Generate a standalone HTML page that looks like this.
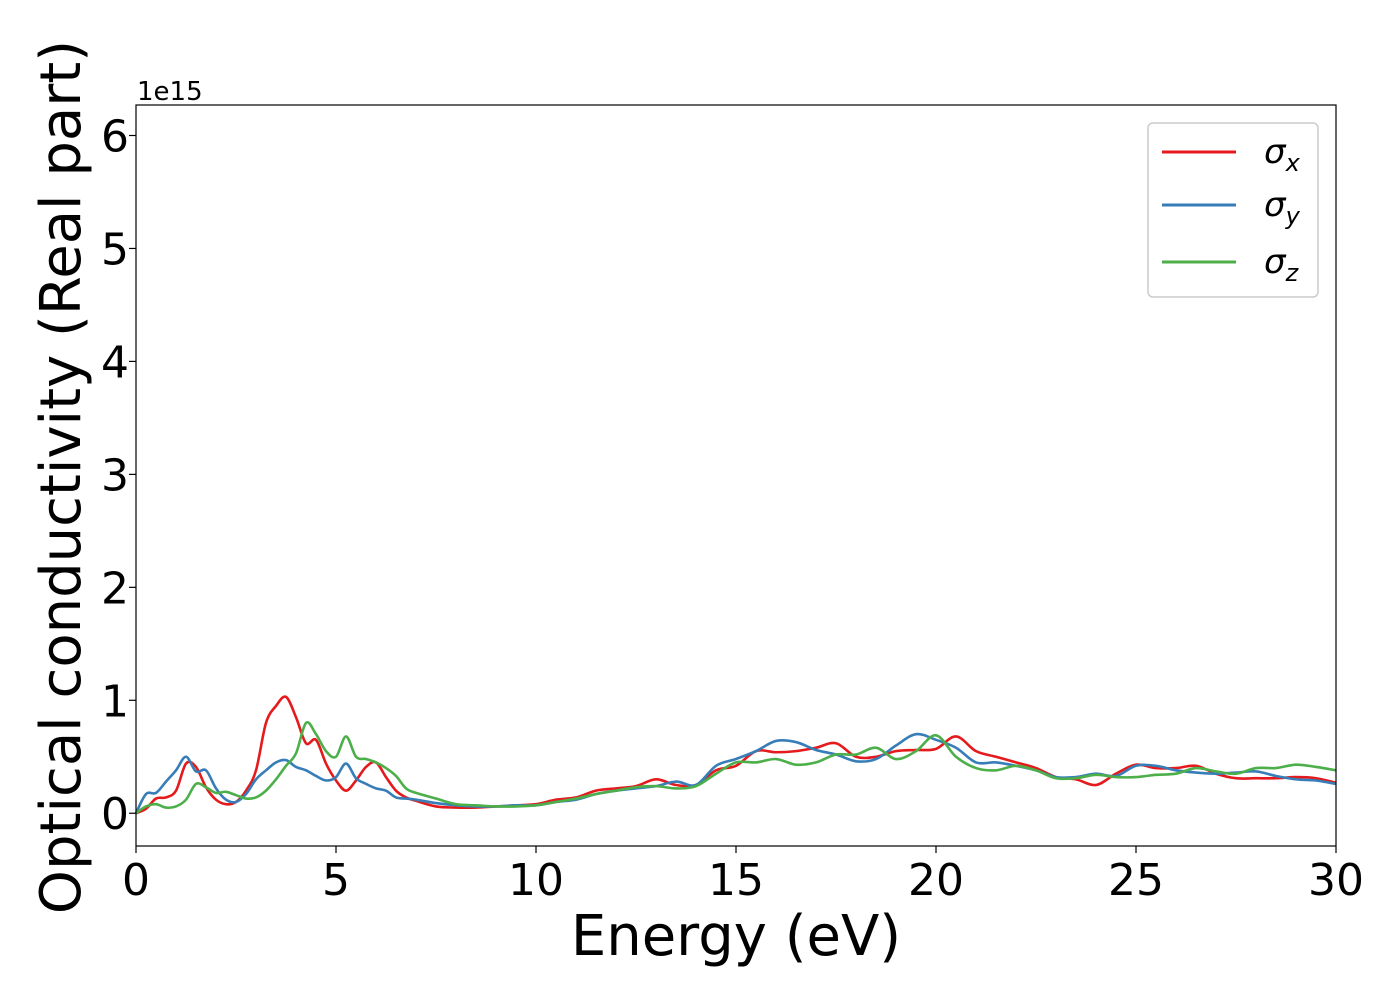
<!DOCTYPE html>
<html><head><meta charset="utf-8"><style>
body{margin:0;background:#fff}
svg{display:block;font-family:"DejaVu Sans","Liberation Sans",sans-serif}
</style></head><body>
<svg id="chart" width="1400" height="1000" viewBox="0 0 1400 1000" xmlns="http://www.w3.org/2000/svg">
<rect width="1400" height="1000" fill="#fff"/>
<g id="plot"></g>
<g id="axes"></g>
<text x="137" y="100" font-size="26">1e15</text>
<text x="736" y="955" font-size="56" text-anchor="middle">Energy (eV)</text>
<text transform="translate(80,477) rotate(-90)" font-size="56" text-anchor="middle">Optical conductivity (Real part)</text>
<g>
<rect x="1148" y="123" width="170" height="174" rx="5" fill="#fff" stroke="#ccc" stroke-width="1.5"/>
<line x1="1162" y1="152" x2="1236" y2="152" stroke="#e41a1c" stroke-width="3"/>
<text x="1264" y="163" font-size="34" font-style="italic">σ<tspan font-size="24" dy="8">x</tspan></text>
<line x1="1162" y1="205" x2="1236" y2="205" stroke="#377eb8" stroke-width="3"/>
<text x="1264" y="216" font-size="34" font-style="italic">σ<tspan font-size="24" dy="8">y</tspan></text>
<line x1="1162" y1="262" x2="1236" y2="262" stroke="#4daf4a" stroke-width="3"/>
<text x="1264" y="273" font-size="34" font-style="italic">σ<tspan font-size="24" dy="8">z</tspan></text>
</g>
</svg>
<script>
const energy=[0,0.25,0.5,0.75,1,1.25,1.5,1.75,2,2.25,2.5,2.75,3,3.25,3.5,3.75,4,4.25,4.5,4.75,5,5.25,5.5,5.75,6,6.25,6.5,6.75,7,7.5,8,8.5,9,9.5,10,10.5,11,11.5,12,12.5,13,13.5,14,14.5,15,15.5,16,16.5,17,17.5,18,18.5,19,19.5,20,20.5,21,21.5,22,22.5,23,23.5,24,24.5,25,25.5,26,26.5,27,27.5,28,28.5,29,29.5,30];
const sigmaX=[0,0.04,0.13,0.14,0.2,0.44,0.41,0.23,0.12,0.08,0.1,0.2,0.38,0.8,0.95,1.03,0.85,0.62,0.65,0.44,0.29,0.2,0.29,0.41,0.45,0.32,0.2,0.14,0.11,0.06,0.05,0.05,0.06,0.07,0.08,0.12,0.14,0.2,0.22,0.24,0.3,0.25,0.25,0.38,0.42,0.55,0.54,0.55,0.58,0.62,0.5,0.5,0.55,0.56,0.57,0.68,0.55,0.5,0.45,0.4,0.32,0.3,0.25,0.35,0.43,0.4,0.4,0.42,0.35,0.31,0.31,0.31,0.32,0.31,0.27];
const sigmaY=[0,0.17,0.18,0.28,0.38,0.5,0.37,0.38,0.22,0.12,0.1,0.17,0.3,0.38,0.45,0.47,0.41,0.38,0.33,0.29,0.32,0.44,0.31,0.26,0.22,0.2,0.14,0.13,0.12,0.09,0.07,0.06,0.06,0.07,0.07,0.1,0.12,0.17,0.2,0.22,0.24,0.28,0.25,0.42,0.48,0.55,0.64,0.63,0.56,0.52,0.46,0.48,0.6,0.7,0.65,0.58,0.45,0.45,0.42,0.38,0.32,0.32,0.35,0.33,0.42,0.42,0.38,0.36,0.35,0.36,0.37,0.33,0.3,0.29,0.26];
const sigmaZ=[0,0.06,0.08,0.05,0.06,0.12,0.26,0.23,0.18,0.19,0.16,0.13,0.14,0.2,0.3,0.42,0.53,0.8,0.7,0.55,0.5,0.68,0.5,0.48,0.45,0.4,0.33,0.22,0.18,0.13,0.08,0.07,0.06,0.06,0.07,0.1,0.13,0.17,0.2,0.23,0.24,0.22,0.24,0.35,0.45,0.45,0.48,0.43,0.45,0.52,0.52,0.58,0.48,0.55,0.69,0.5,0.4,0.38,0.42,0.38,0.31,0.31,0.34,0.32,0.32,0.34,0.35,0.4,0.37,0.35,0.4,0.4,0.43,0.41,0.38];
const xTicks=[0,5,10,15,20,25,30];
const yTicks=[0,1,2,3,4,5,6];
const X0=136,X1=1336,Y0=105,Y1=846;
const xMin=0,xMax=30,yMin=-0.29,yMax=6.27;
const sx=v=>X0+(v-xMin)/(xMax-xMin)*(X1-X0);
const sy=v=>Y1-(v-yMin)/(yMax-yMin)*(Y1-Y0);
const NS="http://www.w3.org/2000/svg";
const plot=document.getElementById('plot'),axes=document.getElementById('axes');
function smooth(xs,ys){
  const p=xs.map((x,i)=>[sx(x),sy(ys[i])]);
  let d=`M${p[0][0]},${p[0][1]}`;
  for(let i=0;i<p.length-1;i++){
    const a=p[i-1]||p[i],b=p[i],c=p[i+1],e=p[i+2]||c;
    d+=` C${b[0]+(c[0]-a[0])/6},${b[1]+(c[1]-a[1])/6} ${c[0]-(e[0]-b[0])/6},${c[1]-(e[1]-b[1])/6} ${c[0]},${c[1]}`;
  }
  return d;
}
const series=[[sigmaX,'#e41a1c','series-sigma-x'],[sigmaY,'#377eb8','series-sigma-y'],[sigmaZ,'#4daf4a','series-sigma-z']];
series.forEach(s=>{
  const path=document.createElementNS(NS,'path');
  path.setAttribute('d',smooth(energy,s[0]));
  path.setAttribute('fill','none');path.setAttribute('stroke',s[1]);path.setAttribute('stroke-width','2.6');
  
  
  plot.appendChild(path);
});
const frame=document.createElementNS(NS,'rect');
frame.setAttribute('x',X0);frame.setAttribute('y',Y0);frame.setAttribute('width',X1-X0);frame.setAttribute('height',Y1-Y0);
frame.setAttribute('fill','none');frame.setAttribute('stroke','#000');frame.setAttribute('stroke-width','1.2');


axes.appendChild(frame);
xTicks.forEach(t=>{
  const l=document.createElementNS(NS,'line');
  l.setAttribute('x1',sx(t));l.setAttribute('x2',sx(t));l.setAttribute('y1',Y1);l.setAttribute('y2',Y1+7);l.setAttribute('stroke','#000');l.setAttribute('stroke-width','1.2');
  
  
  axes.appendChild(l);
  const tx=document.createElementNS(NS,'text');
  tx.setAttribute('x',sx(t));tx.setAttribute('y',Y1+49);tx.setAttribute('font-size','44');tx.setAttribute('text-anchor','middle');
  tx.textContent=t;
  
  
  axes.appendChild(tx);
});
yTicks.forEach(t=>{
  const l=document.createElementNS(NS,'line');
  l.setAttribute('x1',X0-7);l.setAttribute('x2',X0);l.setAttribute('y1',sy(t));l.setAttribute('y2',sy(t));l.setAttribute('stroke','#000');l.setAttribute('stroke-width','1.2');
  
  
  axes.appendChild(l);
  const tx=document.createElementNS(NS,'text');
  tx.setAttribute('x',X0-7);tx.setAttribute('y',sy(t)+16);tx.setAttribute('font-size','44');tx.setAttribute('text-anchor','end');
  tx.textContent=t;
  
  
  axes.appendChild(tx);
});
</script>
</body></html>
